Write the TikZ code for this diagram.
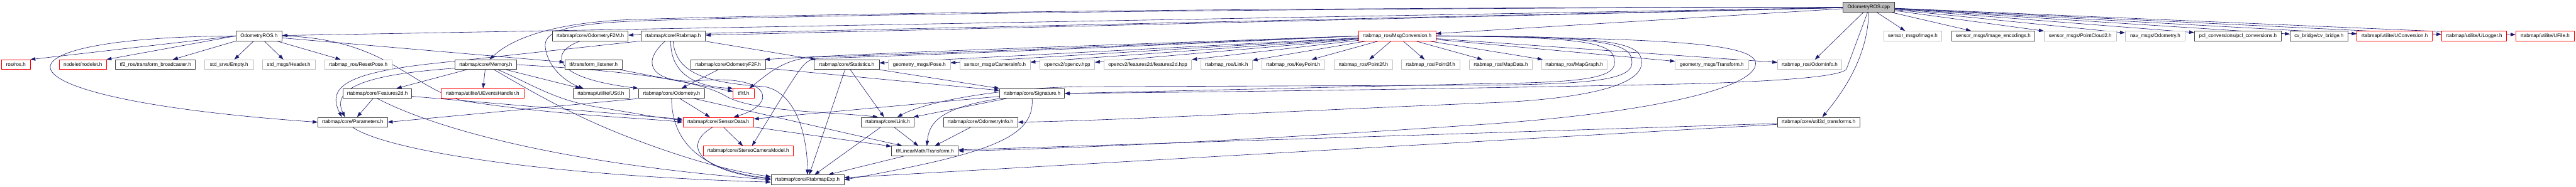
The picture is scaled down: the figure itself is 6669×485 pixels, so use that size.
\documentclass[tikz,border=0pt]{standalone}
\usepackage{fontspec}
\setmainfont{Liberation Sans}
\usetikzlibrary{arrows.meta,calc}
\definecolor{edgec}{HTML}{191970}
\definecolor{bkc}{HTML}{404040}
\definecolor{gyc}{HTML}{BFBFBF}
\definecolor{rdc}{HTML}{FF0000}
\pgfdeclarelayer{edgelayer}
\pgfsetlayers{edgelayer,main}
\tikzset{
  nd/.style={rectangle, draw, fill=white, line width=1.1pt, minimum height=25.5pt, inner sep=0pt,
    font=\fontsize{13}{15}\selectfont, text=black},
  bk/.style={nd, draw=bkc},
  rd/.style={nd, draw=rdc},
  gy/.style={nd, draw=gyc},
  rt/.style={nd, draw=bkc, fill=gyc},
  dep/.style={draw=edgec, line width=1pt, -{Triangle[length=13pt,width=9pt]}}
}
\begin{document}
\begin{tikzpicture}[x=1pt,y=-1pt]
\useasboundingbox (0,0) rectangle (6669,485);
% row 0
\node[rt,minimum width=134] (cpp) at (4838,18.5) {OdometryROS.cpp};
% row 1
\node[bk,minimum width=119] (oh) at (670.5,93.2) {OdometryROS.h};
\node[bk,minimum width=196] (f2m) at (1528,93.2) {rtabmap/core/OdometryF2M.h};
\node[bk,minimum width=167] (rtm) at (1742.5,93.2) {rtabmap/core/Rtabmap.h};
\node[rd,minimum width=200] (msg) at (3617,93.2) {rtabmap\_ros/MsgConversion.h};
\node[gy,minimum width=150] (img) at (4952,93.2) {sensor\_msgs/Image.h};
\node[bk,minimum width=216] (enc) at (5160,93.2) {sensor\_msgs/image\_encodings.h};
\node[gy,minimum width=187] (pc2) at (5385.5,93.2) {sensor\_msgs/PointCloud2.h};
\node[gy,minimum width=155] (nav) at (5579.5,93.2) {nav\_msgs/Odometry.h};
\node[bk,minimum width=225] (pcl) at (5793.5,93.2) {pcl\_conversions/pcl\_conversions.h};
\node[bk,minimum width=149] (cvb) at (6003.5,93.2) {cv\_bridge/cv\_bridge.h};
\node[rd,minimum width=195] (ucv) at (6199.5,93.2) {rtabmap/utilite/UConversion.h};
\node[rd,minimum width=168] (ulg) at (6405,93.2) {rtabmap/utilite/ULogger.h};
\node[rd,minimum width=152] (ufl) at (6589,93.2) {rtabmap/utilite/UFile.h};
% row 2
\node[rd,minimum width=74] (ros) at (41,167.7) {ros/ros.h};
\node[rd,minimum width=121] (nod) at (214.5,167.7) {nodelet/nodelet.h};
\node[bk,minimum width=207] (tfb) at (402.5,167.7) {tf2\_ros/transform\_broadcaster.h};
\node[gy,minimum width=126] (emp) at (593,167.7) {std\_srvs/Empty.h};
\node[gy,minimum width=137] (hdr) at (747.5,167.7) {std\_msgs/Header.h};
\node[gy,minimum width=175] (rsp) at (927.5,167.7) {rtabmap\_ros/ResetPose.h};
\node[bk,minimum width=159] (mem) at (1257.5,167.7) {rtabmap/core/Memory.h};
\node[bk,minimum width=149] (tfl) at (1536.5,167.7) {tf/transform\_listener.h};
\node[bk,minimum width=194] (f2f) at (1885,167.7) {rtabmap/core/OdometryF2F.h};
\node[bk,minimum width=168] (sta) at (2192,167.7) {rtabmap/core/Statistics.h};
\node[gy,minimum width=160] (pos) at (2380,167.7) {geometry\_msgs/Pose.h};
\node[gy,minimum width=182] (cam) at (2576,167.7) {sensor\_msgs/CameraInfo.h};
\node[gy,minimum width=142] (ocv) at (2763,167.7) {opencv2/opencv.hpp};
\node[gy,minimum width=227] (f2d) at (2971.5,167.7) {opencv2/features2d/features2d.hpp};
\node[gy,minimum width=133] (rlk) at (3175.5,167.7) {rtabmap\_ros/Link.h};
\node[gy,minimum width=162] (kpt) at (3348,167.7) {rtabmap\_ros/KeyPoint.h};
\node[gy,minimum width=151] (p2f) at (3529.5,167.7) {rtabmap\_ros/Point2f.h};
\node[gy,minimum width=151] (p3f) at (3703.5,167.7) {rtabmap\_ros/Point3f.h};
\node[gy,minimum width=163] (mpd) at (3885.5,167.7) {rtabmap\_ros/MapData.h};
\node[gy,minimum width=169] (mpg) at (4075.5,167.7) {rtabmap\_ros/MapGraph.h};
\node[gy,minimum width=189] (gtf) at (4431.5,167.7) {geometry\_msgs/Transform.h};
\node[gy,minimum width=166] (odi) at (4685,167.7) {rtabmap\_ros/OdomInfo.h};
% row 3
\node[bk,minimum width=178] (fea) at (977,242.5) {rtabmap/core/Features2d.h};
\node[rd,minimum width=214] (ueh) at (1249,242.5) {rtabmap/utilite/UEventsHandler.h};
\node[bk,minimum width=145] (ust) at (1555.5,242.5) {rtabmap/utilite/UStl.h};
\node[bk,minimum width=171] (odo) at (1738.5,242.5) {rtabmap/core/Odometry.h};
\node[rd,minimum width=54] (tft) at (1925,242.5) {tf/tf.h};
\node[bk,minimum width=168] (sig) at (2672,242.5) {rtabmap/core/Signature.h};
% row 4
\node[bk,minimum width=180] (par) at (913,317) {rtabmap/core/Parameters.h};
\node[rd,minimum width=183] (sen) at (1859.5,317) {rtabmap/core/SensorData.h};
\node[bk,minimum width=138] (lnk) at (2298,317) {rtabmap/core/Link.h};
\node[bk,minimum width=193] (oin) at (2538.5,317) {rtabmap/core/OdometryInfo.h};
\node[bk,minimum width=214] (u3d) at (4708,317) {rtabmap/core/util3d\_transforms.h};
% row 5
\node[rd,minimum width=232] (stc) at (1937,391.7) {rtabmap/core/StereoCameraModel.h};
\node[bk,minimum width=173] (trf) at (2394.5,391.7) {tf/LinearMath/Transform.h};
% row 6
\node[bk,minimum width=189] (exp) at (2090.5,466.5) {rtabmap/core/RtabmapExp.h};

\begin{pgfonlayer}{edgelayer}
% from OdometryROS.cpp
\draw[dep] (cpp) -- (oh);
\draw[dep] (cpp) -- (f2m);
\draw[dep] (cpp) -- (rtm);
\draw[dep] (cpp) -- (msg);
\draw[dep] (cpp.west) .. controls (3200,20) and (2200,34) .. (1660,50) .. controls (1450,55) and (1330,95) .. ($(mem.north)+(10,0)$);
\draw[dep] (cpp.west) .. controls (3200,22) and (2200,37) .. (1660,54) .. controls (1450,62) and (1405,85) .. (1412,125) .. controls (1420,180) and (1470,215) .. ($(ust.north)+(-45,0)$);
\draw[dep] ($(cpp.south)+(-3,0)$) -- (4780,180) .. controls (4760,200) and (4600,210) .. (4400,217) .. controls (3800,230) and (3200,238) .. (sig.east);
\draw[dep] (cpp) -- (odi);
\draw[dep] (cpp.south) .. controls (4835,150) and (4770,240) .. ($(u3d.north)+(10,0)$);
\draw[dep] (cpp) -- (img);
\draw[dep] (cpp) -- (enc);
\draw[dep] (cpp) -- (pc2);
\draw[dep] (cpp) -- (nav);
\draw[dep] (cpp) -- (pcl);
\draw[dep] (cpp) -- (cvb);
\draw[dep] (cpp) -- (ucv);
\draw[dep] (cpp) -- (ulg);
\draw[dep] (cpp) -- (ufl);
% from OdometryROS.h
\draw[dep] (oh.west) -- (ros.north east);
\draw[dep] (oh.west) -- (nod.north east);
\draw[dep] (oh.south west) -- ($(tfb.north)+(45,0)$);
\draw[dep] (oh) -- (emp);
\draw[dep] (oh) -- (hdr);
\draw[dep] (oh) -- (rsp);
\draw[dep] (oh) -- (tfl);
\draw[dep] (oh.west) .. controls (-60,97) and (-60,255) .. (par.west);
\draw[dep] (oh.east) .. controls (1000,100) and (1060,225) .. (1200,262) .. controls (1450,300) and (1650,305) .. (sen.west);
% OdometryF2M.h
\draw[dep] ($(f2m.south)+(-25,0)$) .. controls (1430,130) and (1410,200) .. (odo.north west);
% Rtabmap.h
\draw[dep] (rtm.south west) -- (1110,166) .. controls (900,190) and (845,225) .. ($(par.north)+(-28,0)$);
\draw[dep] (rtm) -- (sta);
\draw[dep] ($(rtm.south)+(-20,0)$) .. controls (1650,170) and (1700,215) .. (1800,210) .. controls (2000,190) and (2015,270) .. ($(sen.north)+(40,0)$);
\draw[dep] ($(rtm.south)+(-6,0)$) .. controls (1735,190) and (1800,225) .. (tft.north west);
\draw[dep] (rtm.south) .. controls (1750,200) and (1850,215) .. (1980,225) .. controls (2060,240) and (2090,350) .. (exp.north);
% Memory.h
\draw[dep] (mem) -- (ueh);
\draw[dep] (mem) -- (ust);
\draw[dep] (mem) -- (fea);
\draw[dep] ($(mem.south west)+(0,-4)$) .. controls (1000,190) and (850,215) .. ($(par.north)+(-20,0)$);
\draw[dep] ($(mem.south)+(32,0)$) .. controls (1390,225) and (1440,262) .. (1560,280) .. controls (1650,295) and (1700,305) .. ($(sen.west)+(0,-5)$);
\draw[dep] ($(mem.south)+(22,0)$) .. controls (1380,240) and (1500,310) .. (1660,368) .. controls (1800,420) and (1900,445) .. ($(exp.west)+(0,-8)$);
\draw[dep] (mem.east) .. controls (1550,180) and (1800,200) .. (1880,250) .. controls (1950,290) and (2150,290) .. ($(lnk.north)+(-25,0)$);
% tf/transform_listener.h
\draw[dep] (tfl) -- (tft);
% OdometryF2F.h
\draw[dep] (f2f) -- (odo);
\draw[dep] (f2f) -- (sig);
% Statistics.h
\draw[dep] (sta) -- (lnk);
\draw[dep] (sta) -- (sig);
\draw[dep] (sta) -- (exp);
% MsgConversion.h
\draw[dep] (msg) -- (pos);
\draw[dep] (msg) -- (cam);
\draw[dep] (msg) -- (ocv);
\draw[dep] (msg) -- (f2d);
\draw[dep] (msg) -- (rlk);
\draw[dep] (msg) -- (kpt);
\draw[dep] (msg) -- (p2f);
\draw[dep] (msg) -- (p3f);
\draw[dep] (msg) -- (mpd);
\draw[dep] (msg) -- (mpg);
\draw[dep] (msg) -- (gtf);
\draw[dep] (msg) -- (odi);
\draw[dep] (msg) -- (sta);
\draw[dep] (msg.west) .. controls (2800,120) and (2300,135) .. ($(f2f.north east)+(-3,0)$);
\draw[dep] (msg.west) .. controls (3000,115) and (2400,140) .. (2110,148) .. controls (2030,152) and (1990,190) .. ($(tft.north)+(15,0)$);
\draw[dep] (msg.west) .. controls (3000,118) and (2400,143) .. (2110,152) .. controls (2080,160) .. ($(stc.north)+(10,0)$);
\draw[dep] (msg.east) .. controls (4140,96) and (4180,115) .. (4180,163) .. controls (4180,205) and (4080,214) .. (3850,217) -- (sig.east);
\draw[dep] (msg.east) .. controls (4180,94) and (4225,115) .. (4225,163) .. controls (4225,210) and (4100,218) .. (3850,221) -- (2800,225) .. controls (2600,227) and (2400,262) .. ($(lnk.north)+(25,0)$);
\draw[dep] (msg.east) .. controls (4200,92) and (4250,115) .. (4250,163) .. controls (4250,240) and (4000,262) .. (3850,267) .. controls (3300,290) and (2900,312) .. (oin.east);
\draw[dep] (msg.east) .. controls (4300,100) and (4545,110) .. (4545,165) .. controls (4545,225) and (4300,290) .. (3850,322) .. controls (3300,360) and (2800,385) .. (trf.east);
% Features2d.h
\draw[dep] (fea) -- (par);
\draw[dep] (fea) -- (sen);
\draw[dep] (fea.south) .. controls (1100,320) and (1400,420) .. (exp.west);
% Odometry.h
\draw[dep] (odo.south west) -- (par.east);
\draw[dep] (odo) -- (sen);
\draw[dep] (odo.south) .. controls (1740,380) and (1830,445) .. ($(exp.west)+(0,-4)$);
\draw[dep] (odo) -- (trf);
% Parameters.h
\draw[dep] (par.south) .. controls (1000,390) and (1400,455) .. ($(exp.west)+(0,6)$);
% SensorData.h
\draw[dep] (sen) -- (stc);
\draw[dep] ($(sen.south)+(-15,0)$) .. controls (1760,380) and (1820,445) .. ($(exp.west)+(0,-2)$);
\draw[dep] (sen) -- (trf);
% Signature.h
\draw[dep] (sig) -- (sen);
\draw[dep] (sig) -- (lnk);
\draw[dep] (sig.south west) .. controls (2430,280) and (2405,320) .. ($(trf.north)+(5,0)$);
\draw[dep] (sig.south) .. controls (2680,360) and (2550,400) .. (exp.east);
% Link.h, OdometryInfo.h, Transform.h, util3d
\draw[dep] (lnk) -- (trf);
\draw[dep] (lnk) -- (exp);
\draw[dep] (oin) -- (trf);
\draw[dep] (trf) -- (exp);
\draw[dep] (u3d) -- (trf);
\draw[dep] (u3d) -- (exp);
\end{pgfonlayer}
\end{tikzpicture}
\end{document}
